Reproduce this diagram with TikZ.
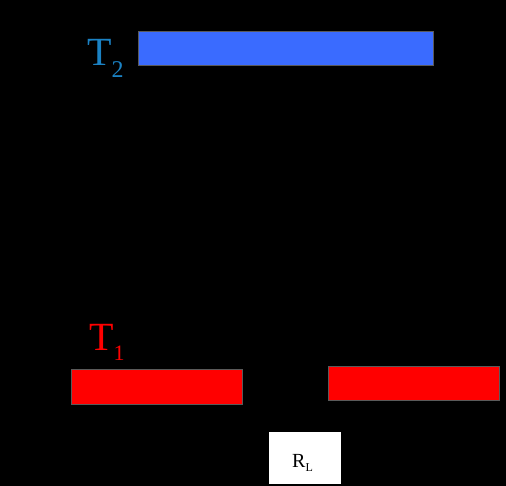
\documentclass[tikz,border=0pt]{standalone}
\usepackage{fontspec}
\setmainfont{Liberation Serif}
\definecolor{tblue}{HTML}{1B82C4}
\definecolor{barblue}{HTML}{3A6BFF}
\definecolor{barred}{HTML}{FF0000}
\definecolor{edge}{HTML}{5A5A5A}
\begin{document}
\begin{tikzpicture}[x=1pt,y=-1pt,
  bar/.style={draw=edge,line width=1.2pt},
  lbl/.style={inner sep=0pt,anchor=base west}]
\fill[black] (0,0) rectangle (506,486);
\useasboundingbox (0,0) rectangle (506,486);
\node[bar,fill=barblue,minimum width=295,minimum height=34,inner sep=0,anchor=north west] (t2bar) at (138,31) {};
\node[bar,fill=barred,minimum width=171,minimum height=35,inner sep=0,anchor=north west] (t1bar) at (71,369) {};
\node[bar,fill=barred,minimum width=171,minimum height=34,inner sep=0,anchor=north west] (t1bar2) at (328,366) {};
\node[draw=black,fill=white,minimum width=73,minimum height=53,inner sep=0,anchor=north west] (rl) at (268,431) {};
\node[lbl,text=tblue,font=\fontsize{40}{40}\selectfont] (t2) at (87,66) {T\raisebox{-0.3em}{\fontsize{24}{24}\selectfont 2}};
\node[lbl,text=barred,font=\fontsize{40}{40}\selectfont] (t1) at (89,350) {T\raisebox{-0.25em}{\fontsize{22}{22}\selectfont 1}};
\node[lbl,text=black,font=\fontsize{20}{20}\selectfont] (rltext) at (292,467) {R\raisebox{-0.2em}{\fontsize{12}{12}\selectfont L}};
\end{tikzpicture}
\end{document}
